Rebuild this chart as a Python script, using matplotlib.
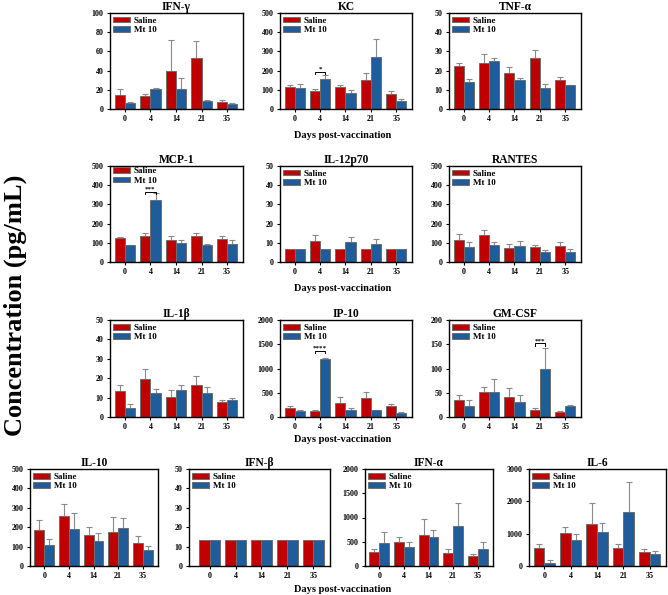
import numpy as np
import matplotlib
matplotlib.use("Agg")
import matplotlib.pyplot as plt

plt.rcParams['font.family'] = ['Liberation Serif', 'DejaVu Serif']
plt.rcParams['font.weight'] = 'bold'

days = ["0", "4", "14", "21", "35"]

# mean values and top of error bar for each cytokine
ifng_sal = [15, 13.5, 40, 53, 7.5]
ifng_sal_top = [21, 16, 72, 71, 9]
ifng_mt = [6.5, 20.5, 20.5, 8, 5]
ifng_mt_top = [7, 22, 32, 9, 6]

kc_sal = [113, 95, 113, 151, 80]
kc_sal_top = [125, 102, 125, 185, 93]
kc_mt = [108, 157, 85, 269, 41]
kc_mt_top = [130, 175, 99, 367, 52]

tnf_sal = [22.3, 23.7, 19, 26.5, 15]
tnf_sal_top = [24, 28.9, 22, 30.8, 16.5]
tnf_mt = [14, 25.2, 15, 10.8, 12.4]
tnf_mt_top = [15.4, 26.8, 16.3, 13, 12.6]

mcp_sal = [124, 133, 116, 136, 122]
mcp_sal_top = [129, 150, 136, 150, 136]
mcp_mt = [86, 322, 98, 90, 93]
mcp_mt_top = [87, 360, 112, 95, 115]

il12_sal = [6.6, 10.7, 6.6, 6.6, 6.6]
il12_sal_top = [6.6, 14.1, 6.6, 6.6, 6.6]
il12_mt = [6.6, 6.6, 10.2, 9.3, 6.6]
il12_mt_top = [6.6, 6.6, 12.9, 12, 6.6]

rantes_sal = [115, 141, 72, 76, 85]
rantes_sal_top = [145, 167, 93, 90, 105]
rantes_mt = [78, 86, 81, 52, 50]
rantes_mt_top = [103, 103, 107, 65, 70]

il1b_sal = [13.3, 19.5, 10.3, 16.4, 7.6]
il1b_sal_top = [16.7, 24.5, 13.8, 21, 8.6]
il1b_mt = [4.7, 12.4, 14.1, 12.6, 8.6]
il1b_mt_top = [6.9, 14.3, 16.7, 15.5, 10]

ip10_sal = [180, 124, 290, 393, 221]
ip10_sal_top = [228, 145, 414, 517, 262]
ip10_mt = [124, 1193, 138, 138, 83]
ip10_mt_top = [138, 1214, 180, 145, 97]

gm_sal = [34.5, 52.4, 41.4, 15, 10]
gm_sal_top = [45.5, 62.8, 59.3, 19, 13]
gm_mt = [22, 51, 31.7, 100, 22]
gm_mt_top = [34.5, 79.3, 44.8, 142, 25]

il10_sal = [188, 257, 159, 176, 116]
il10_sal_top = [236, 319, 202, 253, 155]
il10_mt = [107, 193, 129, 195, 81]
il10_mt_top = [141, 271, 172, 250, 102]

ifnb_sal = [13.4, 13.4, 13.4, 13.4, 13.4]
ifnb_mt = [13.4, 13.4, 13.4, 13.4, 13.4]

ifna_sal = [290, 503, 648, 276, 200]
ifna_sal_top = [345, 607, 979, 345, 255]
ifna_mt = [469, 400, 600, 834, 345]
ifna_mt_top = [703, 503, 745, 1297, 503]

il6_sal = [569, 1013, 1293, 569, 424]
il6_sal_top = [693, 1220, 1934, 672, 527]
il6_mt = [103, 796, 1044, 1665, 372]
il6_mt_top = [196, 993, 1324, 2585, 465]

RED = "#c00000"
BLUE = "#1f5c99"
EDGE = "#6e6e6e"
ERR = "#8a8a8a"

W, H = 668, 595
fig = plt.figure(figsize=(W / 100, H / 100), dpi=100)


def add_ax(left, right, top, bottom):
    # pixel box -> figure fraction
    return fig.add_axes([left / W, 1 - bottom / H, (right - left) / W, (bottom - top) / H])


def panel(ax, title, sal, mt, sal_top, mt_top, ymax, ystep, xlim=(-0.58, 4.62), leg_y=0.975):
    x = np.arange(len(days))
    ax.bar(x - 0.2, sal, 0.4, color=RED, edgecolor=EDGE, linewidth=0.7, label="Saline", zorder=2)
    ax.bar(x + 0.2, mt, 0.4, color=BLUE, edgecolor=EDGE, linewidth=0.7, label="Mt 10", zorder=2)
    if sal_top is not None:
        for xs, v, t in zip(x - 0.2, sal, sal_top):
            if t > v:
                ax.errorbar(xs, v, yerr=[[0], [t - v]], color=ERR, lw=0.8, capsize=2.2, capthick=0.8, zorder=1)
        for xs, v, t in zip(x + 0.2, mt, mt_top):
            if t > v:
                ax.errorbar(xs, v, yerr=[[0], [t - v]], color=ERR, lw=0.8, capsize=2.2, capthick=0.8, zorder=1)
    ax.set_xlim(*xlim)
    ax.set_ylim(0, ymax)
    ax.set_yticks(np.arange(0, ymax + ystep / 2, ystep))
    ax.set_xticks(x)
    ax.set_xticklabels(days)
    ax.tick_params(labelsize=5.8, length=2.5, width=0.8, pad=2)
    for lab in ax.get_xticklabels() + ax.get_yticklabels():
        lab.set_fontweight('bold')
    for sp in ax.spines.values():
        sp.set_linewidth(1.0)
    ax.set_title(title, fontsize=8.3, fontweight='bold', pad=2)
    ax.legend(loc='upper left', bbox_to_anchor=(0.015, leg_y), frameon=False,
              handlelength=1.8, handleheight=0.6, borderaxespad=0, borderpad=0.15,
              labelspacing=0.15, handletextpad=0.45, prop={'weight': 'bold', 'size': 6.5})


def star(ax, i, h, text):
    # significance bracket between the two bars of one day
    d = ax.get_ylim()[1] * 0.025
    ax.plot([i - 0.2, i - 0.2, i + 0.2, i + 0.2], [h - d, h, h, h - d], color='black', lw=0.7)
    ax.text(i, h, text, ha='center', va='bottom', fontsize=5, fontweight='bold')


# row 1
ax = add_ax(110, 243, 13, 109)
panel(ax, "IFN-\u03b3", ifng_sal, ifng_mt, ifng_sal_top, ifng_mt_top, 100, 20)
ax = add_ax(280, 412, 13, 109)
panel(ax, "KC", kc_sal, kc_mt, kc_sal_top, kc_mt_top, 500, 100)
star(ax, 1, 195, "*")
ax = add_ax(449, 581, 13, 109)
panel(ax, "TNF-\u03b1", tnf_sal, tnf_mt, tnf_sal_top, tnf_mt_top, 50, 10)

# row 2
ax = add_ax(110, 243, 166, 262)
panel(ax, "MCP-1", mcp_sal, mcp_mt, mcp_sal_top, mcp_mt_top, 500, 100, leg_y=1.0)
star(ax, 1, 366, "***")
ax = add_ax(280, 412, 166, 262)
panel(ax, "IL-12p70", il12_sal, il12_mt, il12_sal_top, il12_mt_top, 50, 10)
ax = add_ax(449, 581, 166, 262)
panel(ax, "RANTES", rantes_sal, rantes_mt, rantes_sal_top, rantes_mt_top, 500, 100)

# row 3
ax = add_ax(110, 243, 320, 417)
panel(ax, "IL-1\u03b2", il1b_sal, il1b_mt, il1b_sal_top, il1b_mt_top, 50, 10)
ax = add_ax(280, 412, 320, 417)
panel(ax, "IP-10", ip10_sal, ip10_mt, ip10_sal_top, ip10_mt_top, 2000, 500)
star(ax, 1, 1360, "****")
ax = add_ax(449, 581, 320, 417)
panel(ax, "GM-CSF", gm_sal, gm_mt, gm_sal_top, gm_mt_top, 200, 50)
star(ax, 3, 152, "***")

# row 4
ax = add_ax(30, 158, 469, 566)
panel(ax, "IL-10", il10_sal, il10_mt, il10_sal_top, il10_mt_top, 500, 100)
ax = add_ax(189, 330, 469, 566)
panel(ax, "IFN-\u03b2", ifnb_sal, ifnb_mt, None, None, 50, 10, xlim=(-0.8, 4.65))
ax = add_ax(365, 493, 469, 566)
panel(ax, "IFN-\u03b1", ifna_sal, ifna_mt, ifna_sal_top, ifna_mt_top, 2000, 500)
ax = add_ax(529, 666, 469, 566)
panel(ax, "IL-6", il6_sal, il6_mt, il6_sal_top, il6_mt_top, 3000, 1000)

# shared labels
for y in [136, 288, 440, 589]:
    fig.text(343 / W, 1 - y / H, "Days post-vaccination", ha='center', va='center',
             fontsize=7.5, fontweight='bold')
fig.text(15 / W, 1 - 305 / H, "Concentration (pg/mL)", rotation=90, ha='center', va='center',
         fontsize=19, fontweight='bold')

fig.savefig("out.png", dpi=100)
